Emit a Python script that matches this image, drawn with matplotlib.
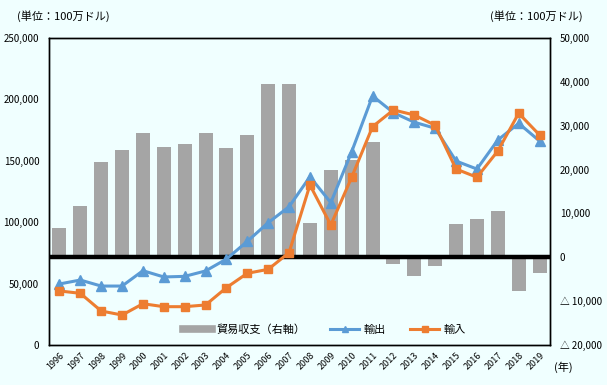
import numpy as np
import matplotlib.pyplot as plt
from matplotlib.ticker import FuncFormatter
from matplotlib.lines import Line2D

plt.rcParams['font.family'] = ['Noto Sans CJK JP', 'DejaVu Sans']

# ---------------------------------------------------------------
# data (millions of USD)
# ---------------------------------------------------------------
years = [str(y) for y in range(1996, 2020)]
exports = [49700, 52900, 48000, 48000, 60500, 55400, 55900, 60300, 70000, 84400,
           99600, 112600, 137000, 115900, 157400, 202800, 189200, 181400, 176500,
           149800, 143300, 166900, 180500, 166100]
imports = [44000, 42100, 27700, 24400, 33600, 31200, 31200, 32600, 46700, 58400,
           61600, 75200, 130300, 97700, 136600, 177800, 191400, 187300, 178900,
           143300, 136600, 158000, 188700, 171000]
balance = [6700, 11700, 21800, 24500, 28400, 25200, 25900, 28400, 24900, 27900,
           39500, 39500, 7900, 19800, 22100, 26200, -1600, -4200, -1900,
           7600, 8800, 10600, -7800, -3500]

bg = '#F0FFFF'
c_bar = '#A5A5A5'
c_exp = '#5B9BD5'
c_imp = '#ED7D31'

fig = plt.figure(figsize=(6.07, 3.85), dpi=100, facecolor=bg)
ax = fig.add_axes([0.0807, 0.1039, 0.8254, 0.7974])
ax2 = ax.twinx()

x = np.arange(len(years))

# bars on right axis
ax2.bar(x, balance, width=0.67, color=c_bar, zorder=2)
ax2.axhline(0, color='black', lw=3.2, zorder=3)
ax2.set_ylim(-20000, 50000)
ax2.set_yticks(np.arange(-20000, 50001, 10000))

def right_fmt(v, pos):
    if v < 0:
        return '△ {:,.0f}'.format(-v)
    return '{:,.0f}'.format(v)
ax2.yaxis.set_major_formatter(FuncFormatter(right_fmt))

# lines on left axis, drawn above bars
ax.set_zorder(ax2.get_zorder() + 1)
ax.patch.set_visible(False)
ax2.patch.set_facecolor(bg)

ax.plot(x, exports, color=c_exp, lw=2.2, marker='^', ms=7, label='輸出', zorder=4)
ax.plot(x, imports, color=c_imp, lw=2.2, marker='s', ms=6, label='輸入', zorder=4)
ax.set_ylim(0, 250000)
ax.set_yticks(np.arange(0, 250001, 50000))
ax.yaxis.set_major_formatter(FuncFormatter(lambda v, p: '{:,.0f}'.format(v)))
ax.set_xlim(-0.5, len(years) - 0.5)
ax.set_xticks(x)
ax.set_xticklabels(years, rotation=45, ha='right', rotation_mode='anchor')

for a in (ax, ax2):
    a.tick_params(length=0, labelsize=7, pad=7)
    a.tick_params(axis='x', labelsize=6.5, pad=4)
    for s in a.spines.values():
        s.set_color('black')
        s.set_linewidth(1.0)

# legend
handles = [Line2D([], [], color=c_bar, lw=5.5),
           Line2D([], [], color=c_exp, lw=2.2, marker='^', ms=5),
           Line2D([], [], color=c_imp, lw=2.2, marker='s', ms=5)]
labels = ['貿易収支（右軸）', '輸出', '輸入']
ax.legend(handles, labels, loc='lower center', bbox_to_anchor=(0.55, 0.0), ncol=3,
          frameon=False, fontsize=8, handlelength=2.6, handletextpad=0.4,
          columnspacing=2.2)

fig.text(0.028, 0.958, '(単位：100万ドル)', fontsize=8, va='center', ha='left')
fig.text(0.96, 0.958, '(単位：100万ドル)', fontsize=8, va='center', ha='right')
fig.text(0.913, 0.045, '(年)', fontsize=8, va='center', ha='left')

fig.savefig('out.png', dpi=100, facecolor=bg)
